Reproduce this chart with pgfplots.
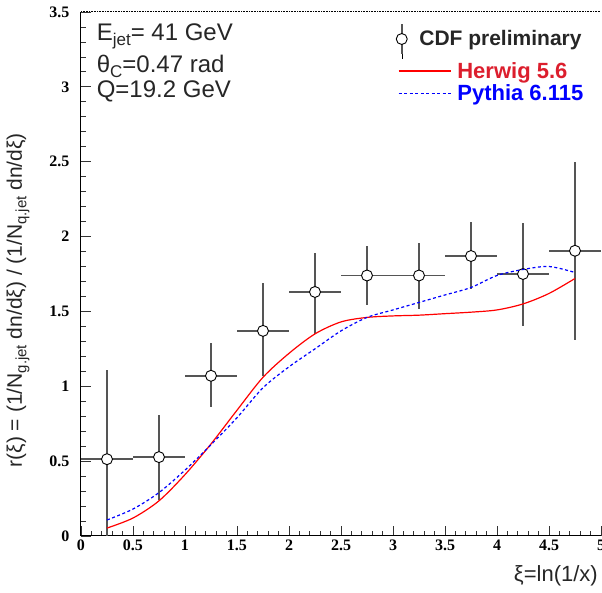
\documentclass[border=0pt]{standalone}
\usepackage{pgfplots}
\pgfplotsset{compat=1.18}
\usepackage{fontspec}
\setmainfont{Liberation Serif}
\newfontfamily\hel{Liberation Sans}
\definecolor{hwred}{RGB}{255,0,0}
\definecolor{hwtext}{RGB}{220,30,45}
\definecolor{pyblue}{RGB}{0,0,255}
\definecolor{errgray}{RGB}{85,85,85}
\newcommand\subA[1]{\raisebox{-5pt}{\fontsize{17}{17}\selectfont #1}}
\newcommand\subB[1]{\raisebox{-4.5pt}{\fontsize{15}{15}\selectfont #1}}

\pgfplotstableread{
x y ex eyp eym
0.25 0.513 0.25 0.594 0.513
0.75 0.527 0.25 0.283 0.287
1.25 1.070 0.25 0.220 0.210
1.75 1.370 0.25 0.320 0.300
2.25 1.630 0.25 0.260 0.280
2.75 1.740 0.25 0.195 0.195
3.25 1.740 0.25 0.220 0.225
3.75 1.870 0.25 0.230 0.220
4.25 1.750 0.25 0.340 0.350
4.75 1.905 0.25 0.590 0.595
}\cdfdata

\pgfplotstableread{
x y
0.25 0.053
0.50 0.12
0.75 0.235
1.00 0.41
1.25 0.615
1.50 0.84
1.75 1.06
2.00 1.22
2.25 1.35
2.50 1.43
2.75 1.46
3.00 1.47
3.25 1.475
3.50 1.485
3.75 1.495
4.00 1.51
4.25 1.55
4.50 1.62
4.75 1.72
}\herwig

\pgfplotstableread{
x y
0.25 0.107
0.50 0.18
0.75 0.29
1.00 0.44
1.25 0.61
1.50 0.79
1.75 0.99
2.00 1.13
2.25 1.25
2.50 1.37
2.75 1.46
3.00 1.51
3.25 1.56
3.50 1.61
3.75 1.66
4.00 1.74
4.25 1.78
4.50 1.80
4.75 1.76
}\pythia

\begin{document}
\begin{tikzpicture}
\begin{axis}[
  at={(0,0)}, anchor=south west,
  scale only axis, width=520pt, height=524pt,
  xmin=0, xmax=5, ymin=0, ymax=3.5,
  axis x line*=bottom, axis y line*=left,
  axis line style={black, line width=1pt},
  xtick={0,0.5,1,1.5,2,2.5,3,3.5,4,4.5,5},
  ytick={0,0.5,1,1.5,2,2.5,3,3.5},
  minor tick num=4,
  tick align=inside,
  major tick length=10pt, minor tick length=5pt,
  tick style={black!80, line width=0.8pt},
  /pgf/number format/assume math mode=true,
  ticklabel style={font=\bfseries\fontsize{16}{16}\selectfont},
  yticklabel style={xshift=-8pt},
  clip mode=individual,
  legend cell align=left,
  legend style={draw=none, fill=none, at={(rel axis cs:0.605,0.979)}, anchor=north west,
    font=\hel\bfseries\fontsize{22}{22}\selectfont, inner sep=0pt, row sep=1pt, column sep=4pt,
    nodes={inner sep=2pt}},
]
\addplot[only marks, mark=*, mark size=5.5pt,
  mark options={fill=white, draw=black, line width=0.9pt},
  legend image code/.code={
    \path (3pt,-20pt) -- (3pt,15pt);
    \draw[errgray, line width=1.6pt] (3pt,-15pt) -- (3pt,15pt);
    \draw[black, fill=white, line width=0.9pt] (3pt,0pt) circle (5.5pt);},
  error bars/.cd, x dir=both, x explicit, y dir=both, y explicit,
  error bar style={errgray, line width=1.6pt}, error mark=none]
  table[x=x, y=y, x error=ex, y error plus=eyp, y error minus=eym] {\cdfdata};
\addlegendentry{\hspace{-38pt}\fontsize{21}{21}\selectfont\textcolor{black!85}{CDF preliminary}}
\addplot[hwred, line width=1.2pt, smooth,
  legend image code/.code={\draw[hwred, line width=1.2pt] (0pt,0pt) -- (52pt,0pt);}]
  table[x=x,y=y] {\herwig};
\addlegendentry{\textcolor{hwtext}{Herwig 5.6}}
\addplot[pyblue, line width=1.2pt, smooth, dash pattern=on 3pt off 2.5pt,
  legend image code/.code={\draw[pyblue, line width=1.2pt, dash pattern=on 3pt off 2.5pt] (0pt,0pt) -- (52pt,0pt);}]
  table[x=x,y=y] {\pythia};
\addlegendentry{\textcolor{pyblue}{Pythia 6.115}}

\draw[black, line width=1pt, dash pattern=on 1pt off 0.6pt] (rel axis cs:0,1) -- (rel axis cs:1,1);

\node[anchor=base west, font=\hel\fontsize{24}{24}\selectfont, inner sep=0pt, text=black!85] at (axis cs:0.15,3.31) {E\subA{jet}= 41 GeV};
\node[anchor=base west, font=\hel\fontsize{24}{24}\selectfont, inner sep=0pt, text=black!85] at (axis cs:0.15,3.093) {θ\subA{C}=0.47 rad};
\node[anchor=base west, font=\hel\fontsize{24}{24}\selectfont, inner sep=0pt, text=black!85] at (axis cs:0.15,2.93) {Q=19.2 GeV};

\node[rotate=90, font=\hel\fontsize{21}{21}\selectfont, inner sep=0pt, text=black!85] at (rel axis cs:-0.121,0.45)
  {r(ξ) = (1/N\subB{g.jet} dn/dξ) / (1/N\subB{q.jet} dn/dξ)};
\node[anchor=east, font=\hel\fontsize{22}{22}\selectfont, inner sep=0pt, text=black!85] at ([xshift=-3pt,yshift=-40pt]rel axis cs:1,0) {ξ=ln(1/x)};
\end{axis}
\pgfresetboundingbox
\path (-81pt,-57pt) rectangle (521pt,536pt);
\end{tikzpicture}
\end{document}
